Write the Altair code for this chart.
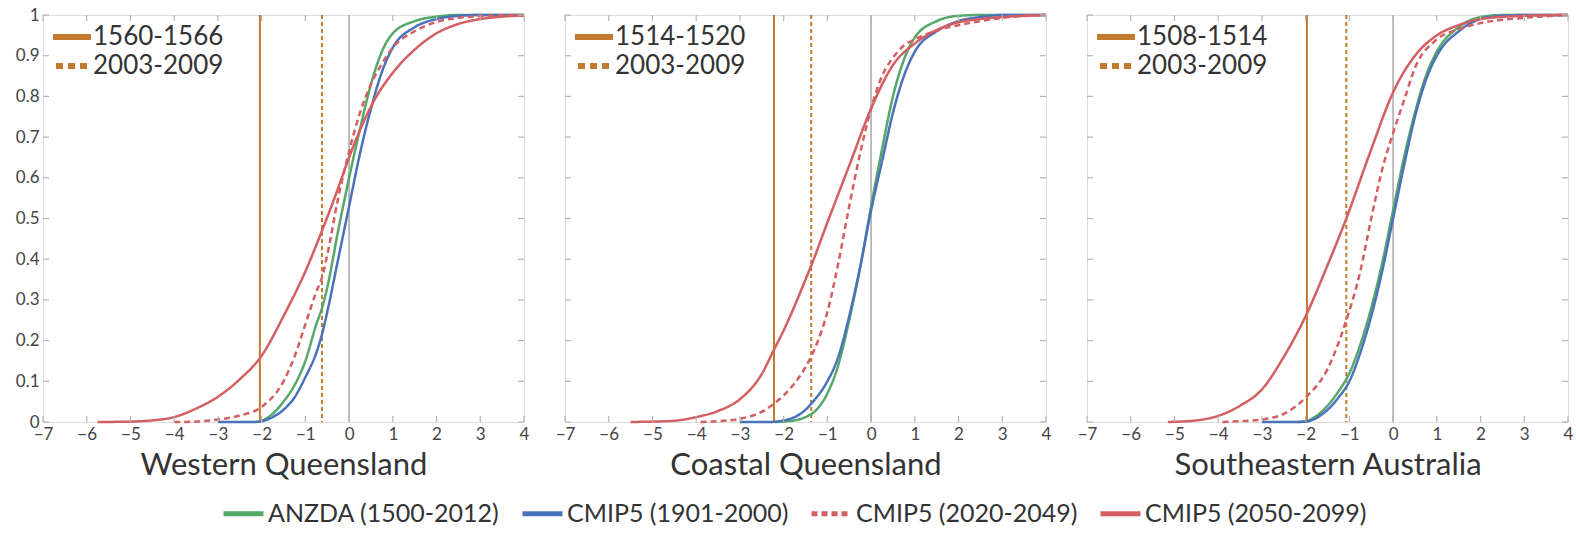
import altair as alt
import pandas as pd

# ---------------- data ----------------
regions = ["Western Queensland", "Coastal Queensland", "Southeastern Australia"]
series_names = ["ANZDA (1500-2012)", "CMIP5 (1901-2000)", "CMIP5 (2020-2049)", "CMIP5 (2050-2099)"]
series_colors = ["#55a868", "#4a72bb", "#d35f62", "#d35f62"]
series_dash = [[1, 0], [1, 0], [6, 4], [1, 0]]

period_old = ["1560-1566", "1514-1520", "1508-1514"]
period_new = ["2003-2009", "2003-2009", "2003-2009"]
period_old_x = [-2.04, -2.22, -1.97]
period_new_x = [-0.62, -1.37, -1.07]

x_ticks = [-7, -6, -5, -4, -3, -2, -1, 0, 1, 2, 3, 4]
y_ticks = [0, 0.1, 0.2, 0.3, 0.4, 0.5, 0.6, 0.7, 0.8, 0.9, 1]

# Western Queensland
wq_anzda_x = [-2.1, -2.0, -1.75, -1.5, -1.25, -1.0, -0.75, -0.62, -0.5, -0.25, 0.0, 0.25, 0.5, 0.75, 1.0, 1.5, 2.0, 2.5, 4.0]
wq_anzda_y = [0.0, 0.003, 0.02, 0.05, 0.09, 0.15, 0.24, 0.28, 0.33, 0.47, 0.60, 0.72, 0.83, 0.91, 0.955, 0.985, 0.996, 1.0, 1.0]
wq_cmip_x = [-3.0, -2.2, -2.0, -1.75, -1.5, -1.25, -1.0, -0.75, -0.62, -0.5, -0.25, 0.0, 0.25, 0.5, 0.75, 1.0, 1.5, 2.0, 2.5, 3.0, 4.0]
wq_cmip_y = [0.0, 0.0, 0.002, 0.012, 0.03, 0.06, 0.11, 0.17, 0.215, 0.27, 0.40, 0.53, 0.66, 0.77, 0.86, 0.92, 0.97, 0.99, 0.998, 1.0, 1.0]
wq_near_x = [-4.0, -3.5, -3.0, -2.5, -2.0, -1.5, -1.25, -1.0, -0.75, -0.62, -0.5, -0.25, 0.0, 0.25, 0.5, 0.75, 1.0, 1.5, 2.0, 2.5, 3.0, 4.0]
wq_near_y = [0.0, 0.001, 0.006, 0.016, 0.037, 0.10, 0.16, 0.24, 0.32, 0.355, 0.41, 0.55, 0.665, 0.76, 0.83, 0.88, 0.92, 0.96, 0.983, 0.993, 0.997, 1.0]
wq_far_x = [-5.75, -5.0, -4.5, -4.0, -3.5, -3.0, -2.5, -2.0, -1.5, -1.0, -0.62, -0.3, 0.0, 0.3, 0.6, 1.0, 1.5, 2.0, 2.5, 3.0, 3.5, 4.0]
wq_far_y = [0.0, 0.001, 0.004, 0.012, 0.033, 0.062, 0.105, 0.163, 0.26, 0.37, 0.47, 0.56, 0.65, 0.73, 0.795, 0.858, 0.915, 0.955, 0.978, 0.99, 0.996, 0.999]

# Coastal Queensland
cq_anzda_x = [-2.2, -2.0, -1.75, -1.5, -1.25, -1.0, -0.75, -0.5, -0.25, 0.0, 0.25, 0.5, 0.75, 1.0, 1.5, 2.0, 2.5, 4.0]
cq_anzda_y = [0.0, 0.001, 0.004, 0.012, 0.03, 0.07, 0.14, 0.25, 0.38, 0.53, 0.67, 0.80, 0.89, 0.945, 0.985, 0.998, 1.0, 1.0]
cq_cmip_x = [-3.0, -2.3, -2.0, -1.75, -1.5, -1.37, -1.25, -1.0, -0.75, -0.5, -0.25, 0.0, 0.25, 0.5, 0.75, 1.0, 1.5, 2.0, 2.5, 3.0, 4.0]
cq_cmip_y = [0.0, 0.0, 0.004, 0.012, 0.03, 0.045, 0.06, 0.10, 0.16, 0.26, 0.38, 0.52, 0.64, 0.76, 0.85, 0.91, 0.96, 0.985, 0.995, 1.0, 1.0]
cq_near_x = [-3.9, -3.5, -3.0, -2.5, -2.22, -2.0, -1.75, -1.5, -1.25, -1.0, -0.75, -0.5, -0.25, 0.0, 0.25, 0.5, 0.75, 1.0, 1.5, 2.0, 2.5, 3.0, 4.0]
cq_near_y = [0.0, 0.002, 0.008, 0.025, 0.045, 0.065, 0.095, 0.135, 0.19, 0.27, 0.39, 0.53, 0.66, 0.77, 0.85, 0.895, 0.925, 0.94, 0.962, 0.975, 0.985, 0.993, 1.0]
cq_far_x = [-5.5, -5.0, -4.5, -4.0, -3.5, -3.0, -2.5, -2.22, -2.0, -1.75, -1.5, -1.37, -1.0, -0.5, 0.0, 0.5, 1.0, 1.5, 2.0, 2.5, 3.0, 4.0]
cq_far_y = [0.0, 0.001, 0.003, 0.012, 0.027, 0.056, 0.118, 0.178, 0.225, 0.285, 0.35, 0.384, 0.49, 0.63, 0.77, 0.877, 0.93, 0.963, 0.982, 0.99, 0.995, 1.0]

# Southeastern Australia
se_anzda_x = [-2.2, -2.0, -1.75, -1.5, -1.25, -1.0, -0.75, -0.5, -0.25, 0.0, 0.25, 0.5, 0.75, 1.0, 1.5, 2.0, 2.5, 4.0]
se_anzda_y = [0.0, 0.002, 0.015, 0.04, 0.075, 0.12, 0.19, 0.28, 0.39, 0.52, 0.65, 0.76, 0.85, 0.91, 0.97, 0.995, 1.0, 1.0]
se_cmip_x = [-3.0, -2.2, -2.0, -1.75, -1.5, -1.25, -1.0, -0.75, -0.5, -0.25, 0.0, 0.25, 0.5, 0.75, 1.0, 1.5, 2.0, 2.5, 3.0, 4.0]
se_cmip_y = [0.0, 0.0, 0.001, 0.01, 0.03, 0.06, 0.10, 0.17, 0.26, 0.37, 0.50, 0.63, 0.75, 0.84, 0.90, 0.96, 0.99, 0.998, 1.0, 1.0]
se_near_x = [-3.9, -3.5, -3.0, -2.5, -2.0, -1.5, -1.07, -0.75, -0.5, -0.25, 0.0, 0.25, 0.5, 1.0, 1.5, 2.0, 3.0, 4.0]
se_near_y = [0.0, 0.002, 0.006, 0.02, 0.06, 0.13, 0.25, 0.37, 0.50, 0.62, 0.71, 0.79, 0.87, 0.94, 0.965, 0.98, 0.993, 1.0]
se_far_x = [-5.15, -4.5, -4.0, -3.5, -3.0, -2.5, -2.0, -1.5, -1.07, -0.5, 0.0, 0.5, 1.0, 1.5, 2.0, 3.0, 4.0]
se_far_y = [0.0, 0.004, 0.015, 0.04, 0.08, 0.16, 0.26, 0.385, 0.50, 0.67, 0.81, 0.90, 0.95, 0.975, 0.99, 0.998, 1.0]

curves = {
    regions[0]: [(wq_anzda_x, wq_anzda_y), (wq_cmip_x, wq_cmip_y), (wq_near_x, wq_near_y), (wq_far_x, wq_far_y)],
    regions[1]: [(cq_anzda_x, cq_anzda_y), (cq_cmip_x, cq_cmip_y), (cq_near_x, cq_near_y), (cq_far_x, cq_far_y)],
    regions[2]: [(se_anzda_x, se_anzda_y), (se_cmip_x, se_cmip_y), (se_near_x, se_near_y), (se_far_x, se_far_y)],
}

# ---------------- styling ----------------
W, H = 481, 407
FONT = "Lato"
ORANGE = "#c27a2e"
FRAME = "#b5b5b5"
TEXT = "#333333"

color_scale = alt.Scale(domain=series_names, range=series_colors)
dash_scale = alt.Scale(domain=series_names, range=series_dash)
legend = alt.Legend(
    title=None, orient="none", legendX=178, legendY=476, direction="horizontal",
    symbolType="stroke", symbolStrokeWidth=5, symbolSize=1600,
    labelFontSize=25, labelFont=FONT, labelColor=TEXT, labelLimit=400,
    columnPadding=12, labelOffset=2, symbolOffset=0,
)


def panel(i):
    region = regions[i]
    rows = []
    for name, (xs, ys) in zip(series_names, curves[region]):
        for xv, yv in zip(xs, ys):
            rows.append({"series": name, "x": xv, "y": yv})
    df = pd.DataFrame(rows)

    xaxis = alt.Axis(values=x_ticks, format="~g", title=region, titleFontSize=31,
                     titleFont=FONT, titleFontWeight="normal", titleColor=TEXT,
                     titlePadding=8, labelFontSize=17, labelFont=FONT, labelColor="#444",
                     labelPadding=4, ticks=False, domain=False, grid=False, labelFlush=False)
    if i == 0:
        yaxis = alt.Axis(values=y_ticks, format="~g", title=None, labelFontSize=17, labelFont=FONT,
                         labelColor="#444", labelPadding=4, ticks=False, domain=False,
                         grid=False, minExtent=37, maxExtent=37)
    else:
        yaxis = None
    xs = alt.Scale(domain=[-7, 4], nice=False, zero=False)
    ys = alt.Scale(domain=[0, 1], nice=False, zero=False)
    X = alt.X("x:Q", scale=xs, axis=xaxis)
    Y = alt.Y("y:Q", scale=ys, axis=yaxis)

    # inward ticks (mirrored on all four sides)
    xt = pd.DataFrame({"x": x_ticks})
    yt = pd.DataFrame({"y": y_ticks})
    tick_style = dict(color=FRAME, strokeWidth=1.2)
    t_bottom = alt.Chart(xt).mark_rule(**tick_style).encode(x=X, y=alt.value(H), y2=alt.value(H - 6))
    t_top = alt.Chart(xt).mark_rule(**tick_style).encode(x=X, y=alt.value(0), y2=alt.value(6))
    t_left = alt.Chart(yt).mark_rule(**tick_style).encode(y=Y, x=alt.value(0), x2=alt.value(6))
    t_right = alt.Chart(yt).mark_rule(**tick_style).encode(y=Y, x=alt.value(W), x2=alt.value(W - 6))

    zero = alt.Chart(pd.DataFrame({"x": [0]})).mark_rule(color="#a8a8a8", strokeWidth=1.5).encode(x=X)
    old = alt.Chart(pd.DataFrame({"x": [period_old_x[i]]})).mark_rule(color=ORANGE, strokeWidth=2).encode(x=X)
    new = alt.Chart(pd.DataFrame({"x": [period_new_x[i]]})).mark_rule(
        color=ORANGE, strokeWidth=2, strokeDash=[4, 3]).encode(x=X)

    lines = alt.Chart(df).mark_line(strokeWidth=2.5, interpolate="monotone").encode(
        x=X, y=Y,
        color=alt.Color("series:N", scale=color_scale, legend=legend),
        strokeDash=alt.StrokeDash("series:N", scale=dash_scale, legend=legend),
        detail="series:N",
    )

    lg = pd.DataFrame({"label": [period_old[i]]})
    lg2 = pd.DataFrame({"label": [period_new[i]]})
    l1 = alt.Chart(lg).mark_rule(color=ORANGE, strokeWidth=6).encode(
        x=alt.value(10), x2=alt.value(48), y=alt.value(22))
    l2 = alt.Chart(lg2).mark_rule(color=ORANGE, strokeWidth=6, strokeDash=[7, 5]).encode(
        x=alt.value(13), x2=alt.value(48), y=alt.value(51))
    t1 = alt.Chart(lg).mark_text(align="left", baseline="middle", fontSize=26, font=FONT, color=TEXT).encode(
        x=alt.value(50), y=alt.value(22), text="label:N")
    t2 = alt.Chart(lg2).mark_text(align="left", baseline="middle", fontSize=26, font=FONT, color=TEXT).encode(
        x=alt.value(50), y=alt.value(51), text="label:N")

    return alt.layer(zero, old, new, lines, t_bottom, t_top, t_left, t_right, l1, l2, t1, t2).properties(
        width=W, height=H)


chart = alt.hconcat(panel(0), panel(1), panel(2), spacing=41, bounds="flush").properties(
    padding={"left": 5, "top": 5, "right": 0, "bottom": 0}
).configure_view(stroke=FRAME, strokeWidth=1.5).configure(background="white")

chart.save("out.html", embed_options={"renderer": "svg", "actions": False})
